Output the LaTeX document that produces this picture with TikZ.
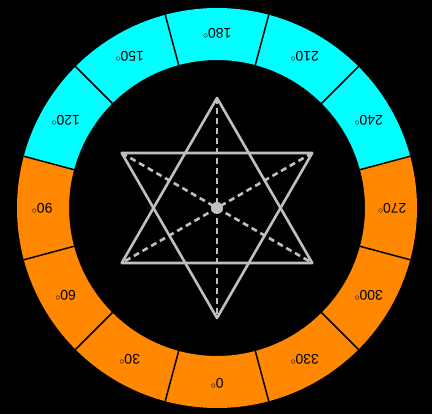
\documentclass[tikz,border=0pt]{standalone}
\usepackage{fontspec}
\setmainfont{Liberation Sans}
\usepackage{tikz}
\usetikzlibrary{arrows.meta}
\definecolor{ringcyan}{RGB}{0,255,255}
\definecolor{ringorange}{RGB}{255,136,0}
\definecolor{stargray}{RGB}{192,192,192}
\tikzset{
  every picture/.style={line join=round, line cap=butt},
  sector/.style={draw=none},
  divider/.style={line width=1.5pt, black},
  degree/.style={font=\fontsize{14}{16}\selectfont, text=black, rotate=180, inner sep=0pt},
  starline/.style={line width=2.6pt, stargray},
  axisline/.style={line width=2.6pt, stargray, dash pattern=on 6pt off 4pt},
}
\begin{document}
\begin{tikzpicture}[x=1pt,y=1pt]
\fill[black](-217,-206)rectangle(215,208);
\useasboundingbox(-217,-206)rectangle(215,208);
% ring
\foreach \a/\c in {0/ringorange,30/ringorange,60/ringorange,90/ringorange,
  120/ringcyan,150/ringcyan,180/ringcyan,210/ringcyan,240/ringcyan,
  270/ringorange,300/ringorange,330/ringorange}{
  \pgfmathsetmacro{\t}{-90-\a}
  \fill[sector,\c](\t-15:148pt) arc[start angle=\t-15,end angle=\t+15,radius=148pt]
    --(\t+15:200pt) arc[start angle=\t+15,end angle=\t-15,radius=200pt]--cycle;
  \node[degree] (d\a) at (\t:175pt) {\a$^{\circ}$};
}
\foreach \a in {0,30,...,330}{
  \draw[divider](-105+\a:148pt)--(-105+\a:200pt);
}
% star
\coordinate (o) at (0,0);
\coordinate (top) at (90:110pt);
\coordinate (bot) at (-90:110pt);
\coordinate (tl) at (150:110pt);
\coordinate (tr) at (30:110pt);
\coordinate (bl) at (210:110pt);
\coordinate (br) at (-30:110pt);
\draw[starline](top)--(bl)--(br)--cycle;
\draw[starline](bot)--(tl)--(tr)--cycle;
\draw[axisline](top)--(bot);
\draw[axisline](tl)--(br);
\draw[axisline](tr)--(bl);
\fill[stargray](o)circle(6pt);
\end{tikzpicture}
\end{document}
